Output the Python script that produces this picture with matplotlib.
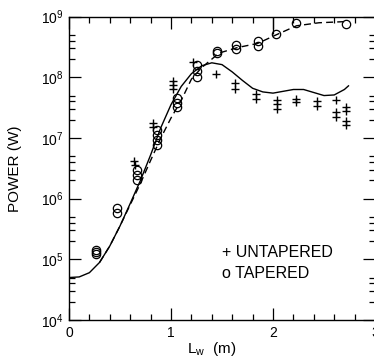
import matplotlib
matplotlib.use("Agg")
import matplotlib.pyplot as plt
import numpy as np
from matplotlib.ticker import LogLocator, MultipleLocator, NullFormatter

plt.rcParams['font.family'] = ['Liberation Sans', 'DejaVu Sans']

# theory curve, untapered (L in m, log10 of power in W)
solid_L = [0.0, 0.1, 0.2, 0.3, 0.4, 0.5, 0.6, 0.7, 0.8, 0.9, 1.0, 1.1, 1.2,
           1.3, 1.4, 1.5, 1.6, 1.7, 1.8, 1.9, 2.0, 2.1, 2.2, 2.3, 2.4, 2.5,
           2.6, 2.7, 2.74]
solid_logP = [4.70, 4.71, 4.78, 4.95, 5.22, 5.55, 5.92, 6.30, 6.72, 7.17, 7.55,
              7.85, 8.06, 8.19, 8.24, 8.21, 8.09, 7.95, 7.82, 7.76, 7.74, 7.77,
              7.80, 7.80, 7.75, 7.70, 7.71, 7.80, 7.86]

# theory curve, tapered
dash_L = [0.3, 0.4, 0.5, 0.6, 0.7, 0.8, 0.9, 1.0, 1.1, 1.2, 1.3, 1.4, 1.47,
          1.55, 1.65, 1.85, 2.03, 2.23, 2.45, 2.72]
dash_logP = [4.95, 5.22, 5.55, 5.90, 6.25, 6.63, 7.00, 7.33, 7.62, 7.97, 8.16,
             8.30, 8.40, 8.44, 8.49, 8.56, 8.70, 8.85, 8.90, 8.92]

# measured, untapered (+)
unt_L = [0.64, 0.65, 0.82, 0.82, 1.02, 1.02, 1.02, 1.22, 1.44, 1.63, 1.63,
         1.83, 1.83, 2.04, 2.04, 2.04, 2.23, 2.23, 2.43, 2.43, 2.62, 2.62,
         2.62, 2.72, 2.72, 2.72, 2.72]
unt_logP = [6.62, 6.55, 7.25, 7.18, 7.94, 7.88, 7.81, 8.25, 8.05, 7.90, 7.81,
            7.72, 7.64, 7.63, 7.56, 7.48, 7.65, 7.60, 7.61, 7.53, 7.62, 7.43,
            7.35, 7.51, 7.44, 7.28, 7.21]

# measured, tapered (o)
tap_L = [0.265, 0.265, 0.265, 0.47, 0.47, 0.67, 0.67, 0.67, 0.86, 0.86, 0.86,
         0.86, 1.06, 1.06, 1.06, 1.25, 1.25, 1.25, 1.45, 1.45, 1.64, 1.64,
         1.85, 1.85, 2.03, 2.23, 2.72]
tap_logP = [5.09, 5.12, 5.15, 5.84, 5.77, 6.47, 6.39, 6.31, 7.13, 7.05, 6.97,
            6.88, 7.66, 7.58, 7.51, 8.20, 8.10, 8.00, 8.43, 8.40, 8.54, 8.46,
            8.60, 8.52, 8.71, 8.89, 8.88]

# thin vertical stroke at L = 2 running up from the tapered curve
stroke_L = 2.0
stroke_logP = (8.72, 9.0)

fig = plt.figure(figsize=(3.74, 3.6), dpi=100)
ax = fig.add_axes([69/374, 40/360, 306/374, 303.3/360])

ax.plot(solid_L, 10**np.array(solid_logP), color='k', lw=1.0)
ax.plot(dash_L, 10**np.array(dash_logP), color='k', lw=1.0, ls=(0, (5, 3)))
ax.plot(unt_L, 10**np.array(unt_logP), ls='none', marker='+', ms=5.5,
        mew=1.0, color='k')
ax.plot(tap_L, 10**np.array(tap_logP), ls='none', marker='o', ms=6,
        mew=0.9, mfc='none', mec='k')
ax.vlines(stroke_L, 10**stroke_logP[0], 10**stroke_logP[1], color='k', lw=0.9)

ax.set_yscale('log')
ax.set_xlim(0, 3)
ax.set_ylim(1e4, 1e9)

ax.xaxis.set_major_locator(MultipleLocator(1))
ax.xaxis.set_minor_locator(MultipleLocator(0.2))
ax.yaxis.set_major_locator(LogLocator(base=10, numticks=10))
ax.yaxis.set_minor_locator(LogLocator(base=10, subs=(2, 3, 4, 5), numticks=10))
ax.yaxis.set_minor_formatter(NullFormatter())

ax.tick_params(which='both', direction='in', top=True, right=True,
               width=0.9, labelsize=10)
ax.tick_params(which='major', length=8.5, pad=4)
ax.tick_params(which='minor', length=4.3)
for s in ax.spines.values():
    s.set_linewidth(1.0)

ax.set_ylabel('POWER (W)', fontsize=11)
ax.yaxis.set_label_coords(-0.154, 0.5)
ax.text(0.467, -0.097, 'L$_\\mathdefault{w}$  (m)', transform=ax.transAxes,
        ha='center', va='center', fontsize=11)

ax.text(0.50, 0.208, '+ UNTAPERED', transform=ax.transAxes, fontsize=11.5,
        va='baseline')
ax.text(0.50, 0.138, 'o TAPERED', transform=ax.transAxes, fontsize=11.5,
        va='baseline')

fig.savefig('out.png', dpi=100)
